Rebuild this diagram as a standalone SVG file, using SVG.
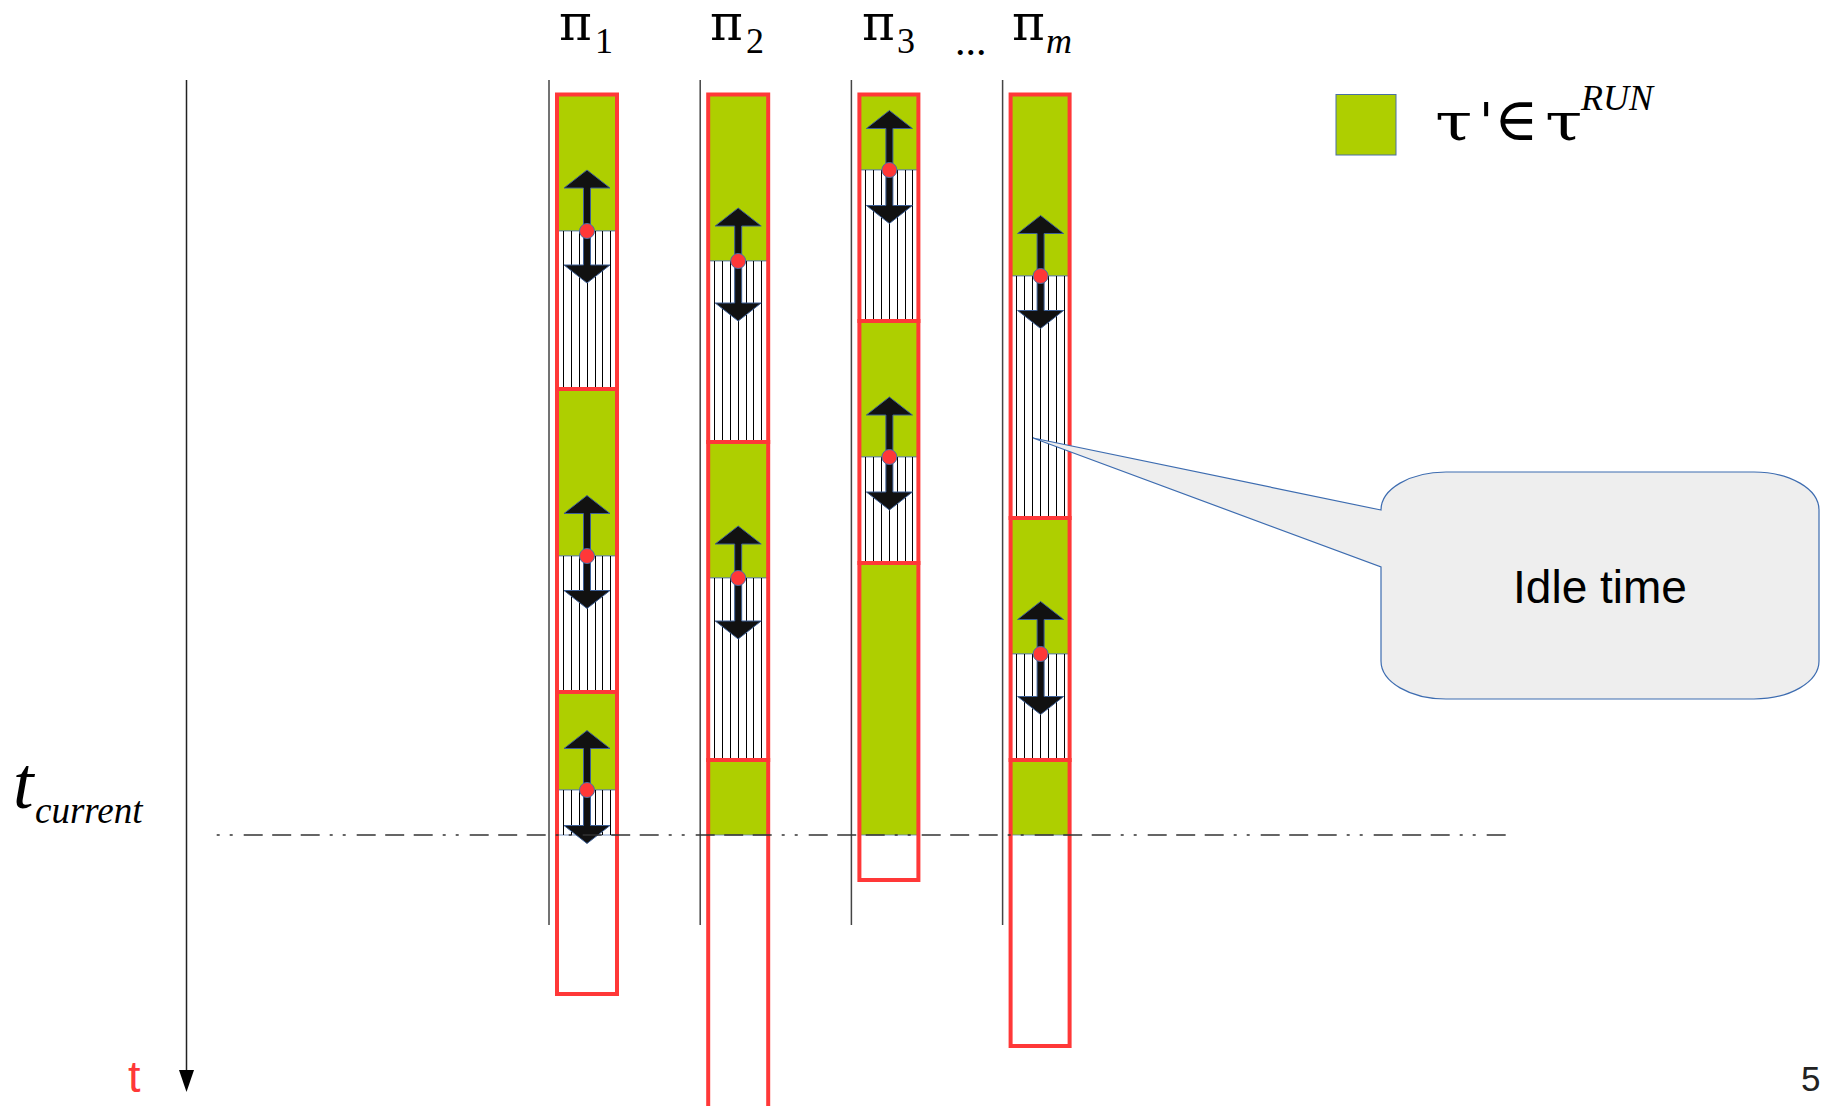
<svg xmlns="http://www.w3.org/2000/svg" width="1829" height="1106" viewBox="0 0 1829 1106">
<style>
.g{fill:#aecf00;stroke:#5a7ab0;stroke-width:0.8}
.hw{fill:#fff;stroke:#5a7ab0;stroke-width:0.8}
.hl{fill:none;stroke:#000;stroke-width:1}
.r{fill:none;stroke:#ff3838;stroke-width:4}
.gl{stroke:#444;stroke-width:1.5}
.dot{fill:#ff3838;stroke:#4a6fa5;stroke-width:1}
.arr{fill:#111;stroke:#3d5f95;stroke-width:1}
.pi{font-family:"DejaVu Serif",serif;font-size:50px;fill:#000}
.sub{font-family:"Liberation Serif",serif;font-size:36px}
.it{font-style:italic}
.lg{font-family:"DejaVu Serif",serif;font-size:52px}
</style>
<defs>
<path id="dbl" d="M0,-56.5 L23,-38.5 L3.5,-38.5 L3.5,38.5 L23,38.5 L0,56.5 L-23,38.5 L-3.5,38.5 L-3.5,-38.5 L-23,-38.5 Z"/>
</defs>
<rect width="1829" height="1106" fill="#fff"/>

<g id="labels">
<text class="pi" x="559" y="40">π<tspan class="sub" x="595" y="53">1</tspan></text>
<text class="pi" x="710" y="40">π<tspan class="sub" x="746" y="53">2</tspan></text>
<text class="pi" x="862" y="40">π<tspan class="sub" x="897" y="53">3</tspan></text>
<text x="955" y="55" style="font-family:'Liberation Serif',serif;font-size:42px">...</text>
<text class="pi" x="1012" y="40">π<tspan class="sub it" x="1046" y="53">m</tspan></text>
<text x="13" y="808" class="it" style="font-family:'Liberation Serif',serif;font-size:74px">t</text>
<text x="35" y="823" class="it" style="font-family:'Liberation Serif',serif;font-size:37px">current</text>
<text x="128" y="1092" style="font-family:'Liberation Sans',sans-serif;font-size:45px;fill:#ff3838">t</text>
<text x="1801" y="1091" style="font-family:'Liberation Sans',sans-serif;font-size:35px;fill:#222">5</text>
</g>

<g id="col1">
<line class="gl" x1="549" y1="80" x2="549" y2="925"/>
<rect class="g" x="557" y="94.5" width="60" height="136.5"/>
<rect class="hw" x="557" y="231" width="60" height="158"/>
<path class="hl" d="M563.5,231V389M571.5,231V389M579.5,231V389M587.5,231V389M595.5,231V389M602.5,231V389M610.5,231V389"/>
<rect class="g" x="557" y="389" width="60" height="167"/>
<rect class="hw" x="557" y="556" width="60" height="136"/>
<path class="hl" d="M563.5,556V692M571.5,556V692M579.5,556V692M587.5,556V692M595.5,556V692M602.5,556V692M610.5,556V692"/>
<rect class="g" x="557" y="692" width="60" height="98"/>
<rect class="hw" x="557" y="790" width="60" height="45"/>
<path class="hl" d="M563.5,790V835M571.5,790V835M579.5,790V835M587.5,790V835M595.5,790V835M602.5,790V835M610.5,790V835"/>
<rect class="r" x="557" y="94.5" width="60" height="294.5"/>
<rect class="r" x="557" y="389" width="60" height="303"/>
<rect class="r" x="557" y="692" width="60" height="302"/>
<use href="#dbl" class="arr" x="587" y="226.5"/>
<use href="#dbl" class="arr" x="587" y="552"/>
<use href="#dbl" class="arr" x="587" y="787"/>
<circle class="dot" cx="587" cy="231" r="7.5"/>
<circle class="dot" cx="587" cy="556" r="7.5"/>
<circle class="dot" cx="587" cy="790" r="7.5"/>
</g>

<g id="col2">
<line class="gl" x1="700.2" y1="80" x2="700.2" y2="925"/>
<rect class="g" x="708.2" y="94.5" width="60" height="166.5"/>
<rect class="hw" x="708.2" y="261" width="60" height="181"/>
<path class="hl" d="M714.5,261V442M722.5,261V442M730.5,261V442M738.5,261V442M746.5,261V442M753.5,261V442M761.5,261V442"/>
<rect class="g" x="708.2" y="442" width="60" height="136"/>
<rect class="hw" x="708.2" y="578" width="60" height="182"/>
<path class="hl" d="M714.5,578V760M722.5,578V760M730.5,578V760M738.5,578V760M746.5,578V760M753.5,578V760M761.5,578V760"/>
<rect class="g" x="708.2" y="760" width="60" height="75"/>
<rect class="r" x="708.2" y="94.5" width="60" height="347.5"/>
<rect class="r" x="708.2" y="442" width="60" height="318"/>
<rect class="r" x="708.2" y="760" width="60" height="360"/>
<use href="#dbl" class="arr" x="738.2" y="264.5"/>
<use href="#dbl" class="arr" x="738.2" y="582.5"/>
<circle class="dot" cx="738.2" cy="261" r="7.5"/>
<circle class="dot" cx="738.2" cy="578" r="7.5"/>
</g>

<g id="col3">
<line class="gl" x1="851.4" y1="80" x2="851.4" y2="925"/>
<rect class="g" x="859.4" y="94.5" width="59" height="75.5"/>
<rect class="hw" x="859.4" y="170" width="59" height="151"/>
<path class="hl" d="M865.5,170V321M873.5,170V321M881.5,170V321M889.5,170V321M897.5,170V321M905.5,170V321M912.5,170V321"/>
<rect class="g" x="859.4" y="321" width="59" height="136"/>
<rect class="hw" x="859.4" y="457" width="59" height="106"/>
<path class="hl" d="M865.5,457V563M873.5,457V563M881.5,457V563M889.5,457V563M897.5,457V563M905.5,457V563M912.5,457V563"/>
<rect class="g" x="859.4" y="563" width="59" height="272"/>
<rect class="r" x="859.4" y="94.5" width="59" height="226.5"/>
<rect class="r" x="859.4" y="321" width="59" height="242"/>
<rect class="r" x="859.4" y="563" width="59" height="317"/>
<use href="#dbl" class="arr" x="889.4" y="167"/>
<use href="#dbl" class="arr" x="889.4" y="453.5"/>
<circle class="dot" cx="889.4" cy="170" r="7.5"/>
<circle class="dot" cx="889.4" cy="457" r="7.5"/>
</g>

<g id="col4">
<line class="gl" x1="1002.6" y1="80" x2="1002.6" y2="925"/>
<rect class="g" x="1010.6" y="94.5" width="59" height="181.5"/>
<rect class="hw" x="1010.6" y="276" width="59" height="242"/>
<path class="hl" d="M1016.5,276V518M1024.5,276V518M1032.5,276V518M1040.5,276V518M1048.5,276V518M1056.5,276V518M1064.5,276V518"/>
<rect class="g" x="1010.6" y="518" width="59" height="136"/>
<rect class="hw" x="1010.6" y="654" width="59" height="106"/>
<path class="hl" d="M1016.5,654V760M1024.5,654V760M1032.5,654V760M1040.5,654V760M1048.5,654V760M1056.5,654V760M1064.5,654V760"/>
<rect class="g" x="1010.6" y="760" width="59" height="75"/>
<rect class="r" x="1010.6" y="94.5" width="59" height="423.5"/>
<rect class="r" x="1010.6" y="518" width="59" height="242"/>
<rect class="r" x="1010.6" y="760" width="59" height="286"/>
<use href="#dbl" class="arr" x="1040.6" y="272"/>
<use href="#dbl" class="arr" x="1040.6" y="658"/>
<circle class="dot" cx="1040.6" cy="276" r="7.5"/>
<circle class="dot" cx="1040.6" cy="654" r="7.5"/>
</g>

<g id="connectors">
<line x1="186.5" y1="80" x2="186.5" y2="1074" stroke="#222" stroke-width="1.5"/>
<path d="M179,1070 L194,1070 L186.5,1092 Z" fill="#000"/>
<line x1="216.7" y1="835" x2="1511" y2="835" stroke="#333" stroke-width="1.5" stroke-dasharray="3 10 3 11 19 9.5 19 9.5 19 10"/>
</g>

<g id="legend">
<rect x="1336" y="94.5" width="60" height="60.5" fill="#aecf00" stroke="#4a6fa5" stroke-width="1"/>
<text class="lg" transform="translate(1435,140) scale(1.3,1)">τ</text>
<text class="lg" x="1479" y="140">'</text>
<text class="lg" x="1494" y="140" style="font-size:60px">∈</text>
<text class="lg" transform="translate(1545,140) scale(1.3,1)">τ</text>
<text x="1581" y="110" class="it" style="font-family:'Liberation Serif',serif;font-size:36px">RUN</text>
</g>

<g id="callout">
<path d="M1381,510 L1033,438 L1381,567 L1381,661 A65,38 0 0 0 1446,699 L1754,699 A65,38 0 0 0 1819,661 L1819,510 A65,38 0 0 0 1754,472 L1446,472 A65,38 0 0 0 1381,510 Z" fill="#eeeeee" stroke="#3d6cb0" stroke-width="1.2"/>
<text x="1600" y="603" text-anchor="middle" style="font-family:'Liberation Sans',sans-serif;font-size:46px">Idle time</text>
</g>
</svg>
